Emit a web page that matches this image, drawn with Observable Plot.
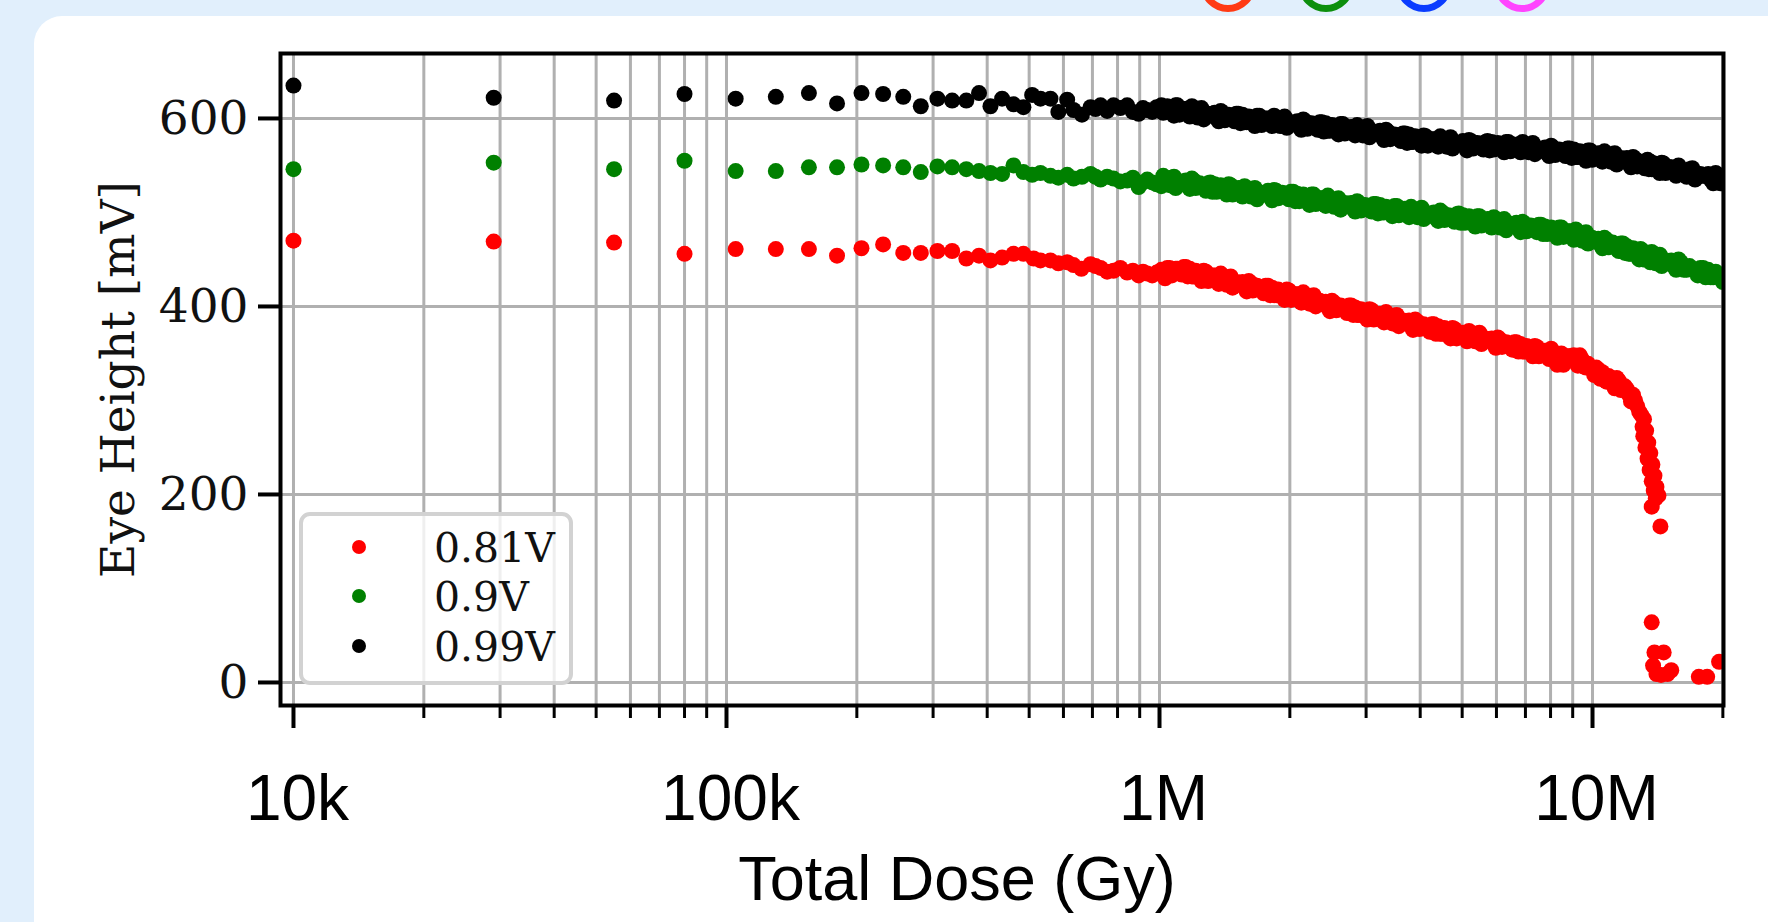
<!DOCTYPE html>
<html>
<head>
<meta charset="utf-8">
<script src="https://cdn.jsdelivr.net/npm/d3@7"></script>
<script src="https://cdn.jsdelivr.net/npm/@observablehq/plot@0.6"></script>
<style>
  html, body { margin: 0; padding: 0; }
  body { width: 1768px; height: 922px; overflow: hidden; background: #e1effc; position: relative; }
  #card { position: absolute; left: 34px; top: 16px; width: 1800px; height: 1000px; background: #ffffff; border-radius: 28px; }
  .ring { position: absolute; width: 42px; height: 42px; border-radius: 50%; border: 7px solid; top: -44px; }
  #chart { position: absolute; left: 0; top: 0; }
  #legend { position: absolute; left: 0; top: 0; }
</style>
</head>
<body>
<div id="card"></div>
<div class="ring" style="left:1200px;border-color:#ff3a14"></div>
<div class="ring" style="left:1298px;border-color:#0d8f0d"></div>
<div class="ring" style="left:1396px;border-color:#0a3cff"></div>
<div class="ring" style="left:1494px;border-color:#ff44ff"></div>
<div id="chart"></div>
<svg id="legend" width="1768" height="922"></svg>
<script>
// ---- data (dose in kGy, eye height in mV) ----
const seriesNames = ["0.81V", "0.9V", "0.99V"];
const seriesColors = ["#ff0000", "#008000", "#000000"];

const xMajor = [10, 100, 1000, 10000];
const xLabels = ["10k", "100k", "1M", "10M"];
const xMinor = [20, 30, 40, 50, 60, 70, 80, 90, 200, 300, 400, 500, 600, 700, 800, 900,
  2000, 3000, 4000, 5000, 6000, 7000, 8000, 9000, 20000];
const yTicks = [0, 200, 400, 600];
const xTitle = "Total Dose (Gy)";
const yTitle = "Eye Height [mV]";

const s099 = [
  [10,635],[29,622],[55,619],[80,626],[105,621],[130,623],[155,627],[180,616],[205,627],[230,626],
  [256,623],[281,613],[307,621],[332,619],[358,619],[383,627],[407,613],[433,621],[460,615],[485,612],
  [508,625],[531,621],[560,621],[584,607],[612,620],[633,609],[662,604],[693,612],[712,610],[731,614],
  [757,608],[783,614],[812,611],[842,614],[868,607],[895,605],[916,611],[937,609],[962,607],[985,612],
  [1010,614],[1030,607],[1055,610],[1080,603],[1100,614],[1125,607],[1150,610],[1175,602],[1200,608],[1225,601],
  [1250,611],[1280,602],[1310,604],[1340,606],[1370,597],[1400,606],[1430,600],[1460,602],[1490,597],[1520,605],
  [1555,604],[1590,596],[1625,600],[1660,592],[1700,603],[1740,597],[1780,600],[1820,592],[1860,598],[1900,592],
  [1945,602],[1990,593],[2035,595],[2080,597],[2125,588],[2170,597],[2220,591],[2270,593],[2320,588],[2370,596],
  [2420,595],[2475,587],[2530,591],[2590,583],[2650,594],[2710,587],[2770,591],[2830,582],[2890,589],[2950,582],
  [3020,592],[3090,583],[3160,584],[3230,587],[3300,577],[3370,586],[3450,579],[3530,582],[3610,576],[3690,584],
  [3770,583],[3850,575],[3940,578],[4030,571],[4120,581],[4210,575],[4300,578],[4400,570],[4500,577],[4600,570],
  [4700,580],[4800,571],[4910,573],[5020,576],[5130,566],[5240,576],[5360,570],[5480,573],[5600,567],[5720,576],
  [5850,575],[5980,568],[6110,572],[6250,564],[6390,575],[6530,569],[6670,572],[6820,564],[6970,571],[7120,564],
  [7280,574],[7440,565],[7600,567],[7770,569],[7940,560],[8110,569],[8290,563],[8470,565],[8660,560],[8850,568],
  [9050,567],[9250,559],[9450,563],[9660,555],[9870,566],[10090,559],[10310,563],[10540,554],[10770,561],[11010,554],
  [11250,563],[11500,555],[11750,556],[12010,558],[12270,548],[12540,557],[12820,550],[13000,553],[13200,547],[13400,556],
  [13600,554],[13800,546],[14000,550],[14300,542],[14600,552],[14900,545],[15200,548],[15600,539],[16000,545],[16500,538],
  [17000,547],[17500,538],[18000,539],[18500,541],[19000,531],[19500,539],[20000,531],
  [1020,606],[1042,613],[1068,608],[1090,614],[1112,604],[1138,610],[1162,604],[1188,613],[1212,604],[1238,609],
  [1265,599],[1295,605],[1325,604],[1355,600],[1385,608],[1415,598],[1445,604],[1475,600],[1505,605],[1538,595],
  [1572,596],[1608,602],[1642,598],[1680,603],[1720,593],[1760,600],[1800,594],[1840,603],[1880,594],[1922,600],
  [1968,590],[2012,596],[2058,595],[2102,591],[2148,599],[2195,589],[2245,595],[2295,591],[2345,596],[2395,586],
  [2448,587],[2502,593],[2560,589],[2620,594],[2680,584],[2740,590],[2800,585],[2860,593],[2920,585],[2985,590],
  [3055,580],[3125,586],[3195,584],[3265,581],[3335,588],[3410,578],[3490,583],[3570,580],[3650,584],[3730,574],
  [3810,575],[3895,581],[3985,576],[4075,582],[4165,571],[4255,578],[4350,572],[4450,581],[4550,573],[4650,578],
  [4750,568],[4855,574],[4965,573],[5075,570],[5185,577],[5300,568],[5420,574],[5540,571],[5660,575],[5785,566],
  [5915,567],[6045,574],[6180,570],[6320,575],[6460,565],[6600,572],[6745,566],[6895,575],[7045,567],[7200,572],
  [7360,562],[7520,568],[7685,567],[7855,563],[8025,571],[8200,561],[8380,567],[8565,563],[8755,568],[8950,558],
  [9150,559],[9350,565],[9555,561],[9765,566],[9980,556],[10200,562],[10425,557],[10655,565],[10890,557],[11130,562],
  [11375,551],[11625,558],[11880,556],[12140,552],[12405,559],[12680,549],[12910,554],[13100,551],[13300,555],[13500,546],
  [13700,546],[13900,552],[14150,548],[14450,553],[14750,542],[15050,548],[15400,542],[15800,550],[16250,541],[16750,546],
  [17250,535],[17750,541],[18250,539],[18750,535],[19250,542],[19750,531]
];

const s090 = [
  [10,546],[29,553],[55,546],[80,555],[105,544],[130,544],[155,548],[180,548],[205,551],[230,550],
  [256,548],[281,543],[307,549],[332,548],[358,546],[383,544],[407,542],[433,541],[460,550],[485,543],
  [508,540],[531,542],[560,539],[584,537],[612,540],[633,536],[662,538],[693,541],[712,538],[731,535],
  [757,538],[783,536],[812,533],[842,534],[868,537],[895,527],[916,532],[937,535],[962,532],[985,530],
  [1010,528],[1030,535],[1055,529],[1080,538],[1100,530],[1125,532],[1150,534],[1175,525],[1200,534],[1225,527],
  [1250,529],[1280,523],[1310,532],[1340,530],[1370,523],[1400,526],[1430,519],[1460,529],[1490,522],[1520,526],
  [1555,517],[1590,523],[1625,517],[1660,526],[1700,518],[1740,520],[1780,523],[1820,513],[1860,523],[1900,517],
  [1945,519],[1990,514],[2035,522],[2080,520],[2125,513],[2170,516],[2220,508],[2270,519],[2320,512],[2370,515],
  [2420,507],[2475,513],[2530,506],[2590,515],[2650,507],[2710,508],[2770,510],[2830,501],[2890,510],[2950,504],
  [3020,506],[3090,501],[3160,509],[3230,508],[3300,500],[3370,504],[3450,496],[3530,507],[3610,500],[3690,504],
  [3770,495],[3850,502],[3940,495],[4030,505],[4120,496],[4210,498],[4300,500],[4400,491],[4500,500],[4600,493],
  [4700,496],[4800,490],[4910,499],[5020,497],[5130,490],[5240,493],[5360,485],[5480,496],[5600,489],[5720,493],
  [5850,484],[5980,490],[6110,484],[6250,493],[6390,485],[6530,486],[6670,489],[6820,479],[6970,488],[7120,482],
  [7280,484],[7440,479],[7600,487],[7770,485],[7940,478],[8110,481],[8290,473],[8470,484],[8660,477],[8850,480],
  [9050,471],[9250,477],[9450,470],[9660,479],[9870,470],[10090,470],[10310,472],[10540,462],[10770,471],[11010,464],
  [11250,465],[11500,459],[11750,467],[12010,464],[12270,456],[12540,458],[12820,450],[13000,460],[13200,453],[13400,456],
  [13600,447],[13800,453],[14000,446],[14300,455],[14600,446],[14900,447],[15200,449],[15600,439],[16000,447],[16500,439],
  [17000,440],[17500,433],[18000,441],[18500,439],[19000,431],[19500,434],[20000,426],
  [1020,539],[1042,531],[1068,537],[1090,526],[1112,533],[1138,532],[1162,528],[1188,536],[1212,526],[1238,531],
  [1265,527],[1295,531],[1325,522],[1355,522],[1385,529],[1415,524],[1445,530],[1475,519],[1505,525],[1538,520],
  [1572,528],[1608,519],[1642,525],[1680,514],[1720,521],[1760,520],[1800,517],[1840,524],[1880,515],[1922,521],
  [1968,517],[2012,522],[2058,512],[2102,512],[2148,519],[2195,514],[2245,519],[2295,509],[2345,515],[2395,509],
  [2448,518],[2502,509],[2560,514],[2620,503],[2680,510],[2740,508],[2800,504],[2860,512],[2920,502],[2985,508],
  [3055,504],[3125,509],[3195,499],[3265,500],[3335,506],[3410,502],[3490,507],[3570,497],[3650,503],[3730,498],
  [3810,506],[3895,498],[3985,503],[4075,493],[4165,499],[4255,498],[4350,494],[4450,502],[4550,492],[4650,497],
  [4750,494],[4855,498],[4965,489],[5075,489],[5185,496],[5300,491],[5420,496],[5540,486],[5660,492],[5785,487],
  [5915,495],[6045,486],[6180,492],[6320,481],[6460,488],[6600,486],[6745,483],[6895,490],[7045,480],[7200,486],
  [7360,482],[7520,487],[7685,477],[7855,477],[8025,484],[8200,479],[8380,484],[8565,474],[8755,480],[8950,474],
  [9150,482],[9350,473],[9555,478],[9765,467],[9980,473],[10200,470],[10425,466],[10655,473],[10890,463],[11130,468],
  [11375,463],[11625,467],[11880,457],[12140,456],[12405,462],[12680,456],[12910,461],[13100,450],[13300,456],[13500,450],
  [13700,458],[13900,449],[14150,454],[14450,443],[14750,449],[15050,447],[15400,443],[15800,450],[16250,439],[16750,443],
  [17250,438],[17750,441],[18250,431],[18750,431],[19250,437],[19750,432]
];

const s081 = [
  [10,470],[29,469],[55,468],[80,456],[105,461],[130,461],[155,461],[180,454],[205,462],[230,466],
  [256,457],[281,457],[307,459],[332,459],[358,451],[383,454],[407,449],[433,452],[460,456],[485,456],
  [512,451],[531,449],[560,449],[584,446],[612,447],[633,444],[660,440],[693,445],[712,443],[731,441],
  [757,437],[783,438],[812,441],[842,436],[868,438],[895,433],[916,437],[937,435],[962,433],[985,436],
  [1010,439],[1030,430],[1055,441],[1080,436],[1100,440],[1125,434],[1150,442],[1175,440],[1200,432],[1225,435],
  [1250,427],[1280,437],[1310,430],[1340,433],[1370,424],[1400,430],[1430,423],[1460,432],[1490,423],[1520,424],
  [1555,426],[1590,416],[1625,425],[1660,418],[1700,420],[1740,414],[1780,422],[1820,420],[1860,412],[1900,415],
  [1945,407],[1990,417],[2035,410],[2080,413],[2125,404],[2170,410],[2220,403],[2270,412],[2320,403],[2370,403],
  [2420,405],[2475,395],[2530,404],[2590,397],[2650,399],[2710,393],[2770,401],[2830,399],[2890,391],[2950,394],
  [3020,386],[3090,396],[3160,389],[3230,392],[3300,383],[3370,389],[3450,382],[3530,391],[3610,382],[3690,383],
  [3770,385],[3850,375],[3940,384],[4030,377],[4120,379],[4210,373],[4300,381],[4400,379],[4500,371],[4600,374],
  [4700,366],[4800,376],[4910,369],[5020,372],[5130,363],[5240,370],[5360,363],[5480,372],[5600,363],[5720,364],
  [5850,366],[5980,356],[6110,365],[6250,358],[6390,360],[6530,354],[6670,362],[6820,360],[6970,352],[7120,355],
  [7280,347],[7440,357],[7600,350],[7770,353],[7940,344],[8110,348],[8290,338],[8470,350],[8660,344],[8850,347],
  [9050,348],[9250,337],[9450,344],[9660,335],[9870,335],[10090,327],[10310,333],[10540,330],[10770,320],[11010,322],
  [11250,313],[11500,321],[11750,312],[12010,312],[12270,299],[12540,300],[12820,288],
  [1020,433],[1042,441],[1068,433],[1090,440],[1112,438],[1138,442],[1162,432],[1188,432],[1212,438],[1238,433],
  [1265,438],[1295,427],[1325,433],[1355,427],[1385,435],[1415,426],[1445,431],[1475,420],[1505,426],[1538,424],
  [1572,420],[1608,427],[1642,417],[1680,422],[1720,418],[1760,422],[1800,412],[1840,412],[1880,418],[1922,413],
  [1968,418],[2012,407],[2058,413],[2102,407],[2148,415],[2195,406],[2245,411],[2295,400],[2345,406],[2395,403],
  [2448,399],[2502,406],[2560,396],[2620,401],[2680,397],[2740,401],[2800,391],[2860,391],[2920,397],[2985,392],
  [3055,397],[3125,386],[3195,392],[3265,386],[3335,394],[3410,385],[3490,390],[3570,379],[3650,385],[3730,383],
  [3810,379],[3895,386],[3985,376],[4075,381],[4165,377],[4255,381],[4350,371],[4450,371],[4550,377],[4650,372],
  [4750,377],[4855,366],[4965,372],[5075,366],[5185,374],[5300,366],[5420,371],[5540,360],[5660,366],[5785,364],
  [5915,360],[6045,367],[6180,357],[6320,362],[6460,358],[6600,362],[6745,352],[6895,352],[7045,358],[7200,353],
  [7360,358],[7520,347],[7685,353],[7855,347],[8025,355],[8200,344],[8380,346],[8565,338],[8755,347],[8950,347],
  [9150,342],[9350,348],[9555,336],[9765,339],[9980,333],[10200,335],[10425,323],[10655,322],[10890,326],[11130,320],
  [11375,324],[11625,311],[11880,315],[12140,306],[12405,306],[12680,294],
  [12950,285],[13050,272],[13150,280],[13100,262],[13300,268],[13250,250],[13450,255],[13400,238],[13600,244],[13550,226],
  [13750,232],[13700,214],[13900,220],[13850,204],[14050,208],[14000,196],[14200,199],[13700,187],[14350,166],
  [13700,64],[13900,32],[14600,32],[13800,18],[14050,9],[14400,8],[14900,9],[15200,13],[17600,6],[18400,6],[19600,22]
];

const series = [s081, s090, s099];

// ---- chart ----
const dotMarks = series.map((s, i) =>
  Plot.dot(s, {x: d => d[0], y: d => d[1], r: 8, fill: seriesColors[i], stroke: "none", clip: true}));

const chart = Plot.plot({
  width: 1768,
  height: 922,
  marginLeft: 280,
  marginRight: 45,
  marginTop: 53,
  marginBottom: 217,
  style: {background: "transparent", overflow: "visible"},
  x: {type: "log", domain: [9.333, 20068]},
  y: {domain: [-24.5, 669.1]},
  marks: [
    Plot.gridX(xMajor.concat(xMinor), {stroke: "#b0b0b0", strokeOpacity: 1, strokeWidth: 3}),
    Plot.gridY(yTicks, {stroke: "#b0b0b0", strokeOpacity: 1, strokeWidth: 3}),
    ...dotMarks,
    Plot.frame({stroke: "#000", strokeWidth: 4}),
    Plot.axisY(yTicks, {tickSize: 22, tickPadding: 10, strokeWidth: 4, fontSize: 47,
      fontFamily: "DejaVu Serif", fill: "#111", label: null}),
    Plot.axisX(xMajor, {tickSize: 23, strokeWidth: 4, tickFormat: () => "", label: null}),
    Plot.axisX(xMinor, {tickSize: 13, strokeWidth: 3, tickFormat: () => "", label: null}),
    Plot.text(xMajor, {x: d => d, text: d => xLabels[xMajor.indexOf(d)], frameAnchor: "bottom",
      dy: 69, dx: 4, lineAnchor: "top", textAnchor: "middle", fontSize: 64,
      fontFamily: "Liberation Sans", fill: "#000"}),
    Plot.text([yTitle], {text: d => d, frameAnchor: "left", dx: -162, rotate: -90,
      textAnchor: "middle", lineAnchor: "middle", fontSize: 47, fontFamily: "DejaVu Serif", fill: "#111"}),
    Plot.text([xTitle], {text: d => d, frameAnchor: "bottom", dx: -45, dy: 174,
      textAnchor: "middle", lineAnchor: "middle", fontSize: 63, fontFamily: "Liberation Sans", fill: "#000"})
  ]
});
document.getElementById("chart").appendChild(chart);

// ---- legend (matplotlib-style box) ----
const lg = d3.select("#legend");
lg.append("rect").attr("x", 301).attr("y", 514).attr("width", 270).attr("height", 169)
  .attr("rx", 9).attr("fill", "rgba(255,255,255,0.8)").attr("stroke", "#d2d2d2").attr("stroke-width", 4);
const rowsY = [547, 596, 646];
seriesNames.forEach((name, i) => {
  lg.append("circle").attr("cx", 359).attr("cy", rowsY[i]).attr("r", 7).attr("fill", seriesColors[i]);
  lg.append("text").attr("x", 434).attr("y", rowsY[i]).attr("dy", "0.36em")
    .attr("font-family", "DejaVu Serif").attr("font-size", 41).attr("fill", "#111").text(name);
});
</script>
</body>
</html>
